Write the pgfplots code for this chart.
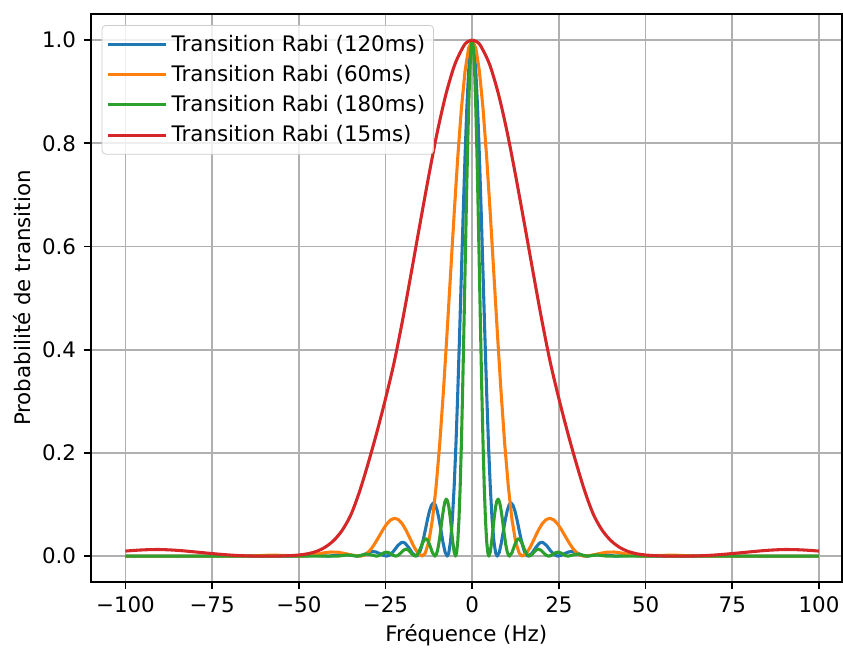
\documentclass[border=0pt]{standalone}
\usepackage{fontspec}
\setmainfont{DejaVu Sans}
\usepackage{pgfplots}
\usepackage{pgfplotstable}
\pgfplotsset{compat=1.18}
\definecolor{C0}{HTML}{1F77B4}
\definecolor{C1}{HTML}{FF7F0E}
\definecolor{C2}{HTML}{2CA02C}
\definecolor{C3}{HTML}{D62728}
\definecolor{gridgray}{HTML}{B0B0B0}
\definecolor{legedge}{HTML}{CCCCCC}

% half curves (f >= 0); the curves are symmetric
\pgfplotstableread{
f p
0 1
0.521 0.9845
1.042 0.9390
1.5625 0.8668
2.083 0.7728
2.604 0.6636
3.125 0.5463
3.646 0.4283
4.167 0.3166
4.6875 0.2171
5.208 0.1345
5.729 0.0712
6.25 0.0286
6.771 0.0057
7.217 0
7.8125 0.0075
8.398 0.0256
8.976 0.0484
9.547 0.0708
10.113 0.0888
10.674 0.0999
11.231 0.1030
11.785 0.0983
12.336 0.0872
12.885 0.0715
13.431 0.0537
13.975 0.0361
14.518 0.0208
15.059 0.0092
15.599 0.0022
16.138 0
17.211 0.0054
18.281 0.0163
19.348 0.0250
19.880 0.0267
20.413 0.0264
21.475 0.0204
22.535 0.0109
23.593 0.0029
24.650 0
25.706 0.0017
26.761 0.0052
27.815 0.0082
28.868 0.0090
29.920 0.0072
30.971 0.0039
32.022 0.0011
33.072 0
35.17 0.0021
37.27 0.0037
39.36 0.0017
41.46 0
43.55 0.0009
45.64 0.0017
47.73 0.0008
49.83 0
60 0
70 0
80 0
90 0
100 0
}\blue

\pgfplotstableread{
f p
0 1
1.042 0.9845
2.083 0.9390
3.125 0.8668
4.167 0.7728
5.208 0.6636
6.25 0.5463
7.292 0.4283
8.333 0.3166
9.375 0.2171
10.417 0.1345
11.458 0.0712
12.5 0.0286
13.542 0.0057
14.434 0
15.625 0.0053
16.797 0.0182
17.952 0.0345
19.094 0.0504
20.226 0.0632
21.348 0.0711
22.46 0.0733
23.57 0.0700
24.672 0.0621
25.769 0.0509
26.862 0.0382
27.951 0.0257
29.036 0.0148
30.118 0.0066
31.198 0.0016
32.275 0
34.42 0.0016
36.56 0.0049
38.70 0.0076
40.82 0.0080
42.95 0.0062
45.07 0.0033
47.19 0.0009
49.30 0
53.52 0.0012
57.74 0.0020
61.94 0.0009
66.14 0
70 0
80 0
90 0
100 0
}\orange

\pgfplotstableread{
f p
0 1
0.347 0.9845
0.694 0.9390
1.042 0.8668
1.389 0.7728
1.736 0.6636
2.083 0.5463
2.431 0.4283
2.778 0.3166
3.125 0.2171
3.472 0.1345
3.819 0.0712
4.167 0.0286
4.514 0.0057
4.811 0
5.208 0.0080
5.599 0.0275
5.984 0.0520
6.365 0.0760
6.742 0.0953
7.116 0.1072
7.488 0.1106
7.857 0.1056
8.224 0.0936
8.590 0.0768
8.954 0.0577
9.317 0.0388
9.679 0.0223
10.039 0.0099
10.399 0.0024
10.758 0
11.474 0.0067
12.188 0.0205
12.899 0.0314
13.254 0.0336
13.608 0.0332
14.316 0.0257
15.023 0.0137
15.729 0.0037
16.434 0
17.138 0.0025
17.841 0.0078
18.543 0.0124
19.245 0.0135
19.946 0.0107
20.647 0.0059
21.348 0.0016
22.048 0
22.748 0.0014
23.447 0.0044
24.147 0.0070
24.845 0.0078
25.544 0.0063
26.242 0.0035
26.941 0.0010
27.639 0
29.034 0.0023
30.428 0.0041
31.822 0.0019
33.217 0
34.61 0.0013
36.00 0.0024
37.40 0.0011
38.79 0
50 0
60 0
70 0
80 0
90 0
100 0
}\green

\pgfplotstableread{
f p
0 1.000
1.25 0.997
2.5 0.988
5 0.953
7.5 0.897
10 0.824
12.5 0.738
15 0.646
17.5 0.552
20 0.460
22.5 0.376
25 0.305
27.5 0.240
30 0.180
32.5 0.125
35 0.080
37.5 0.050
40 0.030
42.5 0.017
45 0.009
47.5 0.0045
50 0.0022
52.5 0.0010
55 0.0003
57.5 0.0000
60 0.0000
62.5 0.0001
65 0.0005
67.5 0.0012
70 0.0022
72.5 0.0035
75 0.0050
77.5 0.0066
80 0.0082
82.5 0.0098
85 0.0112
87.5 0.0122
90 0.0128
92.5 0.0127
95 0.0121
97.5 0.0111
100 0.0098
}\red

\begin{document}
\begin{tikzpicture}
\begin{axis}[
  scale only axis,
  width=400.5pt, height=302.7pt,
  xmin=-110, xmax=106.6,
  ymin=-0.05, ymax=1.05,
  xtick={-100,-75,-50,-25,0,25,50,75,100},
  xticklabels={−100,−75,−50,−25,0,25,50,75,100},
  ytick={0,0.2,0.4,0.6,0.8,1.0},
  yticklabels={0.0,0.2,0.4,0.6,0.8,1.0},
  tick pos=left,
  tick align=outside,
  major tick length=3.8pt,
  tick style={black, line width=0.87pt},
  axis line style={black, line width=0.87pt},
  grid=major,
  grid style={gridgray, line width=0.87pt},
  ticklabel style={font=\fontsize{11.4}{13.6}\selectfont},
  xticklabel style={yshift=-0.5pt},
  yticklabel style={xshift=-0.5pt},
  label style={font=\fontsize{11.4}{13.6}\selectfont},
  xlabel={Fréquence (Hz)},
  ylabel={Probabilité de transition},
  xlabel style={at={(axis description cs:0.5,-0.0945)}, anchor=center},
  ylabel style={at={(axis description cs:-0.0916,0.5)}, anchor=center},
  legend cell align=left,
  legend style={at={(0.0145,0.981)}, anchor=north west,
    draw=legedge, rounded corners=2pt, fill=white, fill opacity=0.8, text opacity=1,
    font=\fontsize{11.4}{13.6}\selectfont, row sep=2.0pt, inner xsep=2.5pt, inner ysep=3pt},
  legend image code/.code={\path (0pt,0pt) -- (31pt,0pt);\draw[#1, line width=1.64pt] (0pt,0pt) -- (24pt,0pt);},
  every axis plot/.append style={line width=1.64pt, line join=round},
]
\addplot[C0] table[x=f, y=p]{\blue};
\addlegendentry{Transition Rabi (120ms)}
\addplot[C0, forget plot] table[x expr=-\thisrow{f}, y=p]{\blue};
\addplot[C1] table[x=f, y=p]{\orange};
\addlegendentry{Transition Rabi (60ms)}
\addplot[C1, forget plot] table[x expr=-\thisrow{f}, y=p]{\orange};
\addplot[C2] table[x=f, y=p]{\green};
\addlegendentry{Transition Rabi (180ms)}
\addplot[C2, forget plot] table[x expr=-\thisrow{f}, y=p]{\green};
\addplot[C3, smooth] table[x=f, y=p]{\red};
\addlegendentry{Transition Rabi (15ms)}
\addplot[C3, smooth, forget plot] table[x expr=-\thisrow{f}, y=p]{\red};
\end{axis}
\pgfresetboundingbox
\path ([xshift=-48.4pt,yshift=-35.3pt]current axis.south west) rectangle ([xshift=0.6pt,yshift=7.6pt]current axis.north east);
\end{tikzpicture}
\end{document}
